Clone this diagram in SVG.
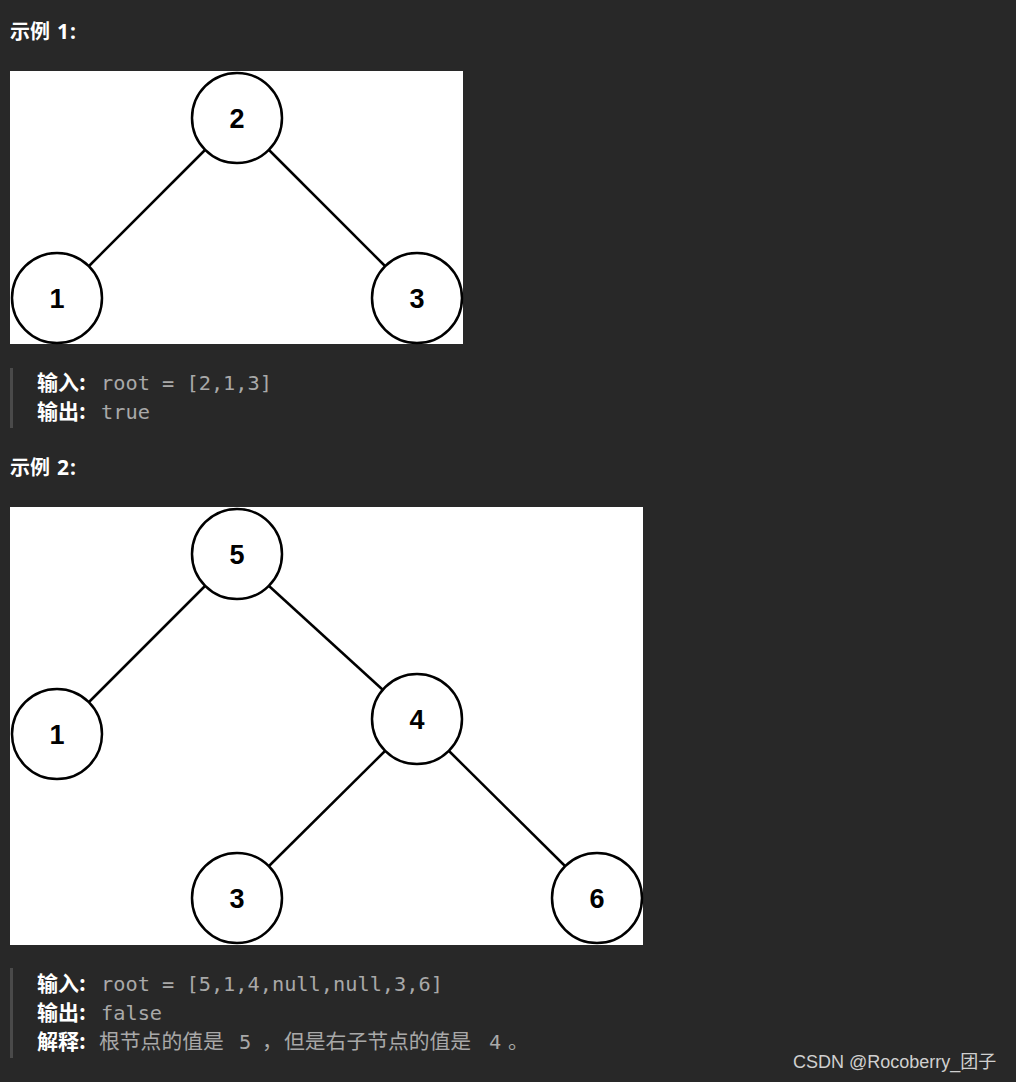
<svg xmlns="http://www.w3.org/2000/svg" width="1016" height="1082" viewBox="0 0 1016 1082">
<style>
.h{font-family:"Noto Sans CJK SC","Noto Sans",sans-serif;font-weight:bold;font-size:20px;fill:#ffffff}
.hn{font-family:"Noto Sans",sans-serif;font-weight:bold;font-size:21px;fill:#ffffff}
.lb{font-family:"Noto Sans CJK SC","Noto Sans",sans-serif;font-weight:bold;font-size:21px;fill:#ffffff}
.code{font-family:"DejaVu Sans Mono","Noto Sans CJK SC",monospace;font-size:20.3px;fill:#a9a9a9}
.cn{font-family:"Noto Sans CJK SC",sans-serif;font-size:20.8px;fill:#a9a9a9}
.n circle{fill:#ffffff;stroke:#000000;stroke-width:2.5}
.n text{font-family:"Liberation Sans",Arial,sans-serif;font-weight:bold;font-size:27px;fill:#000000;text-anchor:middle}
.e line{stroke:#000000;stroke-width:2.5}
.bar{fill:#4a4a4a}
</style>
<rect width="1016" height="1082" fill="#282828"/>
<text x="10" y="39"><tspan class="h">示例</tspan><tspan class="hn" x="57" letter-spacing="1">1:</tspan></text>
<rect x="10" y="71" width="453" height="273" fill="#ffffff"/>
<g class="e">
<line x1="205" y1="150" x2="89" y2="266"/>
<line x1="269" y1="150" x2="385" y2="266"/>
</g>
<g id="t1n2" class="n"><circle cx="237" cy="118" r="45"/><text x="237" y="128">2</text></g>
<g id="t1n1" class="n"><circle cx="57" cy="298" r="45"/><text x="57" y="308">1</text></g>
<g id="t1n3" class="n"><circle cx="417" cy="298" r="45"/><text x="417" y="308">3</text></g>
<rect class="bar" x="10" y="368" width="3" height="60"/>
<text x="37" y="390"><tspan class="lb">输入:</tspan><tspan class="code" x="101">root = [2,1,3]</tspan></text>
<text x="37" y="419"><tspan class="lb">输出:</tspan><tspan class="code" x="101">true</tspan></text>
<text x="10" y="475"><tspan class="h">示例</tspan><tspan class="hn" x="57" letter-spacing="1">2:</tspan></text>
<rect x="10" y="507" width="633" height="438" fill="#ffffff"/>
<g class="e">
<line x1="205" y1="586" x2="89" y2="702"/>
<line x1="269" y1="586" x2="383" y2="690"/>
<line x1="385" y1="751" x2="269" y2="866"/>
<line x1="449" y1="751" x2="565" y2="866"/>
</g>
<g id="t2n5" class="n"><circle cx="237" cy="554" r="45"/><text x="237" y="564">5</text></g>
<g id="t2n1" class="n"><circle cx="57" cy="734" r="45"/><text x="57" y="744">1</text></g>
<g id="t2n4" class="n"><circle cx="417" cy="719" r="45"/><text x="417" y="729">4</text></g>
<g id="t2n3" class="n"><circle cx="237" cy="898" r="45"/><text x="237" y="908">3</text></g>
<g id="t2n6" class="n"><circle cx="597" cy="898" r="45"/><text x="597" y="908">6</text></g>
<rect class="bar" x="10" y="968" width="3" height="90"/>
<text x="37" y="991"><tspan class="lb">输入:</tspan><tspan class="code" x="101">root = [5,1,4,null,null,3,6]</tspan></text>
<text x="37" y="1020"><tspan class="lb">输出:</tspan><tspan class="code" x="101">false</tspan></text>
<text x="37" y="1049"><tspan class="lb">解释:</tspan><tspan class="cn" x="99">根节点的值是</tspan><tspan class="code" x="239">5</tspan><tspan class="cn" x="262">，</tspan><tspan class="cn" x="284">但是右子节点的值是</tspan><tspan class="code" x="489">4</tspan><tspan class="cn" x="508">。</tspan></text>
<text x="793" y="1068" font-family="'Liberation Sans','Noto Sans CJK SC',sans-serif" font-size="18" fill="#d0d0d0">CSDN @Rocoberry_团子</text>
</svg>
